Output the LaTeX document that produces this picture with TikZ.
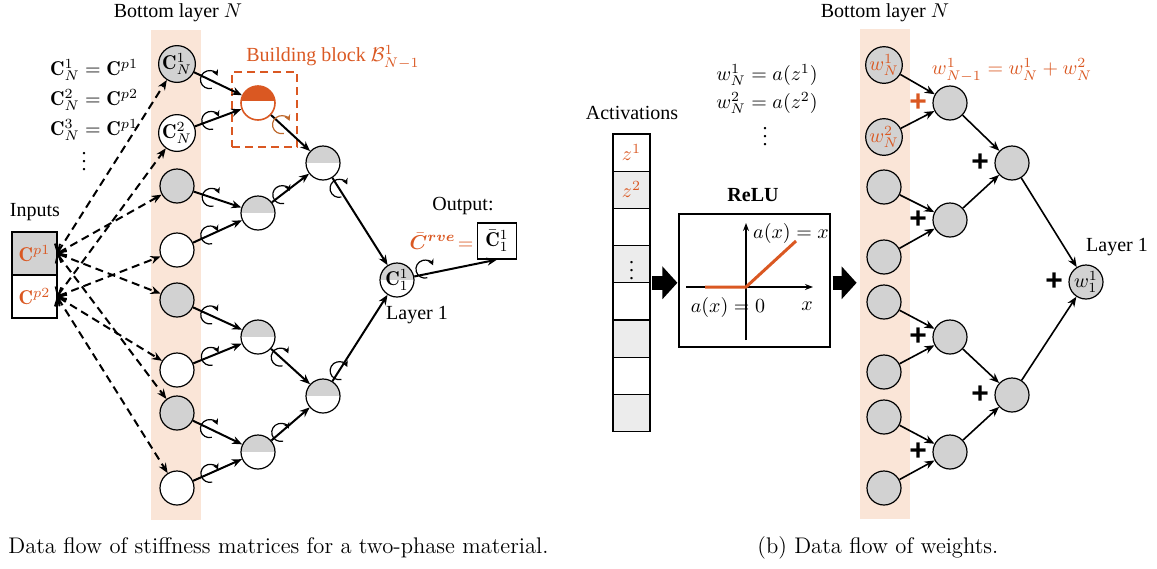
\documentclass[tikz,border=0pt]{standalone}
\usepackage{amsmath}
\usepackage{amssymb}
\usepackage{bm}
\usepackage{fontspec}
\newfontfamily\tnr{Liberation Serif}
\newfontfamily\hlv{Liberation Sans}
\usetikzlibrary{arrows.meta,positioning,calc}
\definecolor{brick}{RGB}{218,88,34}
\definecolor{rust}{RGB}{190,105,45}
\definecolor{peach}{RGB}{250,229,215}
\definecolor{ngray}{RGB}{210,210,210}
\definecolor{cgray}{RGB}{236,236,236}

\begin{document}
\begin{tikzpicture}[x=0.5pt,y=0.5pt,font=\tnr,
  band/.style={fill=peach,minimum width=25pt,minimum height=245pt,inner sep=0pt},
  nd/.style={circle,draw,line width=0.6pt,minimum size=17pt,inner sep=0pt},
  grn/.style={nd,fill=ngray},
  whn/.style={nd,fill=white},
  halfn/.style={nd,fill=white,path picture={\fill[ngray] (path picture bounding box.north west) rectangle (path picture bounding box.east);}},
  arr/.style={-{Stealth[length=5pt,width=4pt]},line width=1pt},
  dsh/.style={{Straight Barb[length=3pt,width=7pt]}-{Stealth[length=5pt,width=4pt]},line width=1pt,dash pattern=on 4pt off 2.5pt},
  spin/.style={-{Stealth[length=3pt,width=3.2pt]},line width=0.6pt},
  plus/.style={font=\hlv\bfseries\fontsize{15}{16}\selectfont,inner sep=0.5pt},
  cell/.style={draw,line width=0.6pt,outer sep=0pt,minimum width=18.5pt,minimum height=18.6pt,inner sep=0pt},
  big/.style={line width=7pt,-{Triangle[length=7.5pt,width=16pt]}},
  capt/.style={font=\fontsize{11.3}{13.5}\selectfont\rmfamily,anchor=west,inner sep=0pt},
  label distance=2pt]
\useasboundingbox (0,0) rectangle (1157,-568);

%Bands
\node[band] (bandL) at (176,-275) {};
\node[band] (bandR) at (885,-273.5) {};
\node (topL) at (178,-13) {Bottom layer $N$};
\node (topR) at (885,-13) {Bottom layer $N$};

%Stiffness: inputs
\node[cell,fill=ngray,minimum width=22.5pt,minimum height=21.5pt] (in1) at (34.5,-253.5) {$\color{brick}\mathbf{C}^{p1}$};
\node[cell,minimum width=22.5pt,minimum height=21.5pt,below=0pt of in1] (in2) {$\color{brick}\mathbf{C}^{p2}$};
\node (inl) at (35,-212) {Inputs};
\node[anchor=west] (e1) at (43,-70) {$\mathbf{C}^1_N=\mathbf{C}^{p1}$};
\node[anchor=west] (e2) at (43,-100) {$\mathbf{C}^2_N=\mathbf{C}^{p2}$};
\node[anchor=west] (e3) at (43,-130) {$\mathbf{C}^3_N=\mathbf{C}^{p1}$};
\node (e4) at (84,-156) {$\vdots$};

%Stiffness: bottom layer
\node[grn] (b1) at (177,-64) {$\mathbf{C}^1_N$};
\node[whn] (b2) at (177,-133) {$\mathbf{C}^2_N$};
\foreach \i/\y/\s in {3/186/grn,4/250/whn,5/300/grn,6/370/whn,7/413/grn,8/488/whn}
\node[\s] (b\i) at (177,-\y) {};

%Stiffness: upper layers
\node[draw=brick,line width=1pt,dash pattern=on 4pt off 2.5pt,minimum width=32.5pt,minimum height=37.5pt] (blk) at (264.5,-109.5) {};
\node[text=brick] (blkt) at (333,-57) {Building block $\mathcal{B}^1_{N-1}$};
\node[nd,draw=brick,line width=0.8pt,fill=white,path picture={\fill[brick] (path picture bounding box.north west) rectangle ([yshift=1pt]path picture bounding box.east);}] (l2a) at (258,-103) {};
\node[halfn] (l2b) at (258,-213) {};
\node[halfn] (l2c) at (258,-337) {};
\node[halfn] (l2d) at (258,-452) {};
\node[halfn] (l3a) at (323,-163) {};
\node[halfn] (l3b) at (323,-396) {};
\node[halfn] (l1) at (397,-280) {$\mathbf{C}^1_1$};
\node (l1t) at (417,-315) {Layer 1};
\node[draw,line width=0.6pt,minimum width=19.5pt,minimum height=18pt,inner sep=0pt] (out) at (497,-241) {$\bar{\mathbf{C}}^1_1$};
\node (outt) at (463,-206) {Output:};
\node[text=brick,left=1pt of out,inner sep=0.5pt] (crve) {$\bar{\bm{C}}^{\bm{rve}}\!=$};

\foreach \t in {b1,b3,b5,b7} \draw[dsh] (in1.east) -- (\t);
\foreach \t in {b2,b4,b6,b8} \draw[dsh] (in2.east) -- (\t);
\foreach \s/\t in {b1/l2a,b2/l2a,b3/l2b,b4/l2b,b5/l2c,b6/l2c,b7/l2d,b8/l2d,l2a/l3a,l2b/l3a,l2c/l3b,l2d/l3b,l3a/l1,l3b/l1}
\draw[arr] (\s) -- (\t);
\draw[arr] (l1) -- (out.south);
\foreach \s/\t/\d in {b1/l2a/18pt,b2/l2a/18pt,b3/l2b/18pt,b4/l2b/18pt,b5/l2c/18pt,b6/l2c/18pt,b7/l2d/18pt,b8/l2d/18pt,l2b/l3a/15pt,l2c/l3b/15pt,l2d/l3b/15pt,l3a/l1/15pt,l3b/l1/15pt,l1/out/15pt}
\draw[spin] ($(\s)!\d!(\t)$) ++(-75:4.5pt) arc[start angle=-75,end angle=-335,radius=4.5pt];
\draw[spin,rust] ($(l2a)!16pt!(l3a)$) ++(-75:4.5pt) arc[start angle=-75,end angle=-335,radius=4.5pt];

%Weights: activations
\node (actl) at (632,-113) {Activations};
\node[cell] (a1) at (631.5,-152.6) {$\color{brick}z^1$};
\node[cell,fill=cgray,below=0pt of a1] (a2) {$\color{brick}z^2$};
\node[cell,below=0pt of a2] (a3) {};
\node[cell,fill=cgray,below=0pt of a3] (a4) {$\vdots$};
\foreach \i/\j/\f in {5/4/white,6/5/cgray,7/6/white,8/7/cgray}
\node[cell,fill=\f,below=0pt of a\j] (a\i) {};
\node (f1) at (767,-75) {$w^1_N=a(z^1)$};
\node (f2) at (767,-103) {$w^2_N=a(z^2)$};
\node (f3) at (765,-131) {$\vdots$};

%Weights: ReLU
\node[draw,line width=0.6pt,minimum width=75.5pt,minimum height=66.5pt,inner sep=0pt] (relu) at (754.5,-280.5) {};
\node[font=\tnr\bfseries] (relut) at (753,-195) {ReLU};
\draw[-{Stealth[length=4pt,width=3pt]},line width=0.7pt] (686,-287) -- (813,-287);
\draw[-{Stealth[length=4pt,width=3pt]},line width=0.7pt] (746,-340) -- (746,-223);
\draw[brick,line width=1.5pt] (705,-287) -- (746,-287) -- (796,-241);
\node (fx1) at (791,-233) {$a(x)=x$};
\node (fx0) at (728,-307) {$a(x)=0$};
\node (xl) at (807,-306) {$x$};
\draw[big,shorten <=1pt,shorten >=0.5pt] (a4.south east) -- (a4.south east -| relu.west);
\draw[big,shorten <=1pt,shorten >=1.5pt] (a4.south east -| relu.east) -- (a4.south east -| bandR.west);

%Weights: tree
\node[grn] (r1) at (884,-65) {$\color{brick}w^1_N$};
\node[grn] (r2) at (884,-137) {$\color{brick}w^2_N$};
\foreach \i/\y in {3/187,4/257,5/302,6/372,7/417,8/488}
\node[grn] (r\i) at (884,-\y) {};
\node[grn,label={[plus,text=brick]left:+}] (s2a) at (950,-103) {};
\node[grn,label={[plus]left:+}] (s2b) at (950,-220) {};
\node[grn,label={[plus]left:+}] (s2c) at (950,-337) {};
\node[grn,label={[plus]left:+}] (s2d) at (950,-452) {};
\node[grn,label={[plus]left:+}] (s3a) at (1012,-163) {};
\node[grn,label={[plus]left:+}] (s3b) at (1012,-395) {};
\node[grn,label={[plus]left:+}] (s1) at (1086,-282) {$w^1_1$};
\node (s1t) at (1117,-247) {Layer 1};
\node[text=brick] (wsum) at (1012,-70) {$w^1_{N-1}=w^1_N+w^2_N$};
\foreach \s/\t in {r1/s2a,r2/s2a,r3/s2b,r4/s2b,r5/s2c,r6/s2c,r7/s2d,r8/s2d,s2a/s3a,s2b/s3a,s2c/s3b,s2d/s3b,s3a/s1,s3b/s1}
\draw[arr,line width=0.8pt] (\s) -- (\t);

%Captions
\node[capt] (capa) at (8,-548) {Data flow of stiffness matrices for a two-phase material.};
\node[capt] (capb) at (757,-548) {(b) Data flow of weights.};
\end{tikzpicture}
\end{document}
